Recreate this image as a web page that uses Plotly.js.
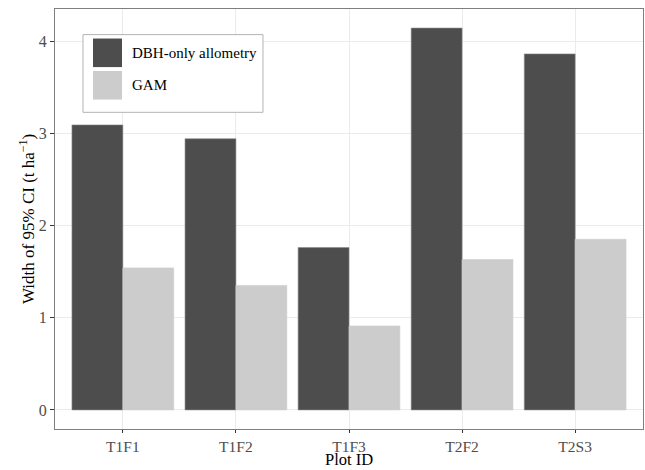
<!DOCTYPE html>
<html>
<head>
<meta charset="utf-8">
<script src="https://cdn.plot.ly/plotly-3.0.1.min.js"></script>
<style>html,body{margin:0;padding:0;background:#fff}#chart{width:645px;height:470px}</style>
</head>
<body>
<div id="chart"></div>
<script>
const plotIds = ["T1F1", "T1F2", "T1F3", "T2F2", "T2S3"];
const seriesNames = ["DBH-only allometry", "GAM"];
const dbhOnly = [3.09, 2.94, 1.76, 4.14, 3.86];
const gam = [1.54, 1.35, 0.91, 1.63, 1.85];
const seriesColors = ["#4d4d4d", "#cccccc"];
const yTicks = [0, 1, 2, 3, 4];
const xTitle = "Plot ID";
const yTitle = "Width of 95% CI (t ha<sup>−1</sup>)";

const font = "Liberation Serif, Times New Roman, serif";
const traces = [dbhOnly, gam].map((vals, i) => ({
  type: "bar",
  name: seriesNames[i],
  x: plotIds,
  y: vals,
  marker: {color: seriesColors[i], line: {color: i === 0 ? "#8a8a8a" : "#cccccc", width: 0.6}},
  hoverinfo: "x+y",
  showlegend: false
}));

// custom legend (large keys, like ggplot)
const shapes = [
  {type: "rect", xref: "paper", yref: "paper", x0: 0.0476, x1: 0.3537, y0: 0.754, y1: 0.939,
   line: {color: "#b3b3b3", width: 1}, fillcolor: "#ffffff", layer: "above"}
];
const annotations = [
  {xref: "paper", yref: "paper", x: 0.5, y: 0, yanchor: "bottom", xanchor: "center", yshift: -41,
   borderpad: 0, text: xTitle, showarrow: false, font: {family: font, size: 16.5, color: "#000"}},
  {xref: "paper", yref: "paper", x: 0, y: 0.5, xanchor: "center", yanchor: "middle", xshift: -28,
   borderpad: 0, textangle: -90, text: yTitle, showarrow: false, font: {family: font, size: 17, color: "#000"}}
];
seriesNames.forEach((n, i) => {
  const top = 0.9297 - i * 0.0773;
  shapes.push({type: "rect", xref: "paper", yref: "paper", x0: 0.0646, x1: 0.1139,
    y0: top - 0.068, y1: top, fillcolor: seriesColors[i], line: {width: 0}, layer: "above"});
  annotations.push({xref: "paper", yref: "paper", x: 0.127, y: top - 0.034, text: n,
    showarrow: false, xanchor: "left", yanchor: "middle",
    font: {family: font, size: 15, color: "#000"}});
});

const layout = {
  width: 645, height: 470,
  margin: {l: 55, r: 2, t: 9, b: 41},
  paper_bgcolor: "#fff", plot_bgcolor: "#fff",
  barmode: "group", bargap: 0.1, bargroupgap: 0,
  font: {family: font},
  xaxis: {
    type: "category", range: [-0.6, 4.6],
    showgrid: true, gridcolor: "#ebebeb", gridwidth: 1,
    ticks: "outside", ticklen: 3, tickcolor: "#333", tickwidth: 1,
    tickfont: {family: font, size: 15.5, color: "#4d4d4d"},
    showline: true, linecolor: "#7f7f7f", linewidth: 1, mirror: true,
    zeroline: false, automargin: false
  },
  yaxis: {
    range: [-0.207, 4.347], tickvals: yTicks, ticktext: yTicks.map(String),
    showgrid: true, gridcolor: "#ebebeb", gridwidth: 1,
    ticks: "outside", ticklen: 4, tickcolor: "#333", tickwidth: 1,
    tickfont: {family: font, size: 16, color: "#4d4d4d"},
    showline: true, linecolor: "#7f7f7f", linewidth: 1, mirror: true,
    zeroline: false, automargin: false
  },
  shapes: shapes,
  annotations: annotations,
  showlegend: false
};

Plotly.newPlot("chart", traces, layout, {displayModeBar: false, staticPlot: true});
</script>
</body>
</html>
